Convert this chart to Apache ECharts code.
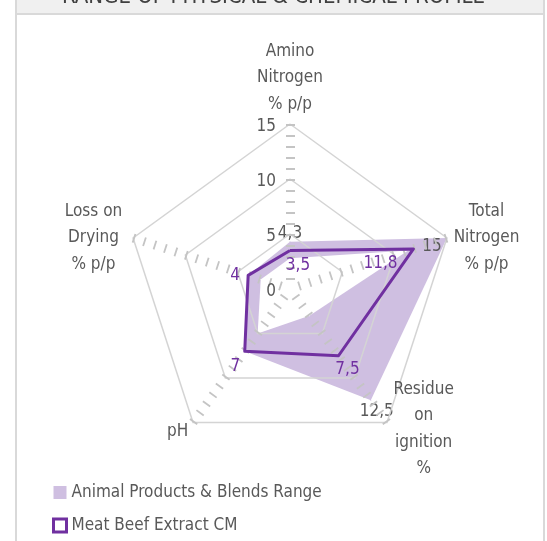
<!DOCTYPE html>
<html>
<head>
<meta charset="utf-8">
<script src="https://cdn.jsdelivr.net/npm/echarts@6/dist/echarts.min.js"></script>
<style>
html,body{margin:0;padding:0;background:#fff;}
#chart{width:547px;height:541px;}
</style>
</head>
<body>
<div id="chart"></div>
<script>
// ---- data (listed clockwise from the top axis) ----
const titleText = 'RANGE OF PHYSICAL & CHEMICAL PROFILE';
const indicatorNames = ['Amino\nNitrogen\n% p/p', 'Total\nNitrogen\n% p/p', 'Residue\non\nignition\n%', 'pH', 'Loss on\nDrying\n% p/p'];
const axisMin = 0;
const axisMax = 15;
const axisSplits = 3; // tick labels 0, 5, 10, 15
const rangeName = 'Animal Products & Blends Range';
const rangeMax = [4.3, 15, 12.5, 7, 4];
const rangeMin = [2.8, 11.3, 3, 5, 2.8];
const meatName = 'Meat Beef Extract CM';
const meatBeef = [3.5, 11.8, 7.5, 7, 4];
const rangeMaxLabelShown = [true, true, true, false, false];

// ECharts lays radar indicators out counter-clockwise; this order makes them run clockwise
const drawOrder = [0, 4, 3, 2, 1];
const ordered = arr => drawOrder.map(i => arr[i]);

// ---- styles ----
const FONT = "'DejaVu Sans Condensed','Liberation Sans Narrow',sans-serif";
const FS = 17;
const RANGE_COLOR = '#cfbfe1';
const LINE_COLOR = '#7030a0';
const TEXT_COLOR = '#595959';
// label paddings [top,right,bottom,left] per vertex (original order) to place each value label
const meatLabelPad = [[31,0,0,16],[30,66,0,0],[28,0,0,18],[30,19,0,0],[1,26,0,0]];
const rangeLabelPad = [[0,0,16,0],[17,30,0,0],[22,0,0,12],[0,0,0,0],[0,0,0,0]];
const nameGaps = [5, 8, 8, 8, 8];
const nameStyle = ['c', 'f', 'c', 'g', 'f']; // per axis name (original order)

const fmt = v => String(v).replace('.', ',');
function richFromPads(pads, color) {
  const r = {};
  pads.forEach((p, i) => {
    r['p' + i] = { padding: p, color: color, fontSize: FS, fontFamily: FONT };
  });
  return r;
}
function valueOf(p) { return Array.isArray(p.value) ? p.value[0] : p.value; }
function nameFormatter(name) {
  const st = nameStyle[indicatorNames.indexOf(name)] || 'c';
  return name.split('\n').map(s => '{' + st + '|' + s + '}').join('\n');
}

const nameRich = {
  c: { width: 64, align: 'center', lineHeight: 26.5, fontSize: FS, fontFamily: FONT, color: TEXT_COLOR },
  f: { width: 64, align: 'center', lineHeight: 26.5, fontSize: FS, fontFamily: FONT, color: TEXT_COLOR, padding: [5, 0, 0, 0] },
  g: { lineHeight: 20, fontSize: FS, fontFamily: FONT, color: TEXT_COLOR, padding: [6, 0, 0, 0] }
};

const chart = echarts.init(document.getElementById('chart'));
const option = {
  animation: false,
  backgroundColor: '#ffffff',
  title: {
    text: titleText,
    left: 'center',
    top: -19,
    textStyle: { color: '#404040', fontSize: 22, fontWeight: 'normal', fontFamily: FONT }
  },
  graphic: [
    { type: 'rect', shape: { x: 17, y: 0, width: 526, height: 13 }, style: { fill: '#f0f0f0' }, z: 0, silent: true },
    { type: 'rect', shape: { x: 17, y: 13, width: 526, height: 2 }, style: { fill: '#d9d9d9' }, z: 0, silent: true },
    { type: 'rect', shape: { x: 15, y: 0, width: 2, height: 541 }, style: { fill: '#d9d9d9' }, z: 0, silent: true },
    { type: 'rect', shape: { x: 543, y: 0, width: 2, height: 541 }, style: { fill: '#d9d9d9' }, z: 0, silent: true }
  ],
  legend: {
    orient: 'vertical',
    left: 52,
    top: 484,
    padding: 0,
    itemWidth: 13,
    itemHeight: 13,
    itemGap: 16,
    selectedMode: false,
    textStyle: { color: TEXT_COLOR, fontSize: FS, fontFamily: FONT },
    data: [
      { name: rangeName, icon: 'rect', itemStyle: { color: RANGE_COLOR, borderWidth: 0 } },
      { name: meatName, icon: 'rect', itemStyle: { color: '#ffffff', borderColor: LINE_COLOR, borderWidth: 3 } }
    ]
  },
  radar: {
    center: [290, 289],
    radius: 165,
    startAngle: 90,
    splitNumber: axisSplits,
    shape: 'polygon',
    z: 3,
    nameGap: 8,
    indicator: ordered(indicatorNames).map((name, i) => ({
      name: name,
      min: axisMin,
      max: axisMax,
      nameGap: nameGaps[drawOrder[i]],
      axisLabel: { show: i === 0 }
    })),
    axisName: {
      color: TEXT_COLOR,
      fontSize: FS,
      fontFamily: FONT,
      formatter: nameFormatter,
      rich: nameRich
    },
    axisLine: { show: true, lineStyle: { color: '#c4c4c4', width: 9, type: [1.8, 9.2], dashOffset: 1.9, cap: 'butt' } },
    axisTick: { show: false },
    axisLabel: {
      show: false, color: TEXT_COLOR, fontSize: FS, fontFamily: FONT, margin: 14,
      formatter: v => '{t|' + v + '}',
      rich: { t: { lineHeight: 20, fontSize: FS, fontFamily: FONT, color: TEXT_COLOR, padding: [6, 0, 0, 0] } }
    },
    splitLine: { lineStyle: { color: '#d4d4d4', width: 1.5 } },
    splitArea: { show: false }
  },
  series: [
    {
      type: 'radar', z: 1, silent: true,
      symbol: 'circle', symbolSize: 1,
      itemStyle: { color: RANGE_COLOR },
      lineStyle: { width: 0, opacity: 0 },
      areaStyle: { color: RANGE_COLOR, opacity: 1 },
      label: {
        show: true, position: 'inside',
        formatter: p => {
          const v = valueOf(p);
          const i = rangeMax.indexOf(v);
          return (i >= 0 && rangeMaxLabelShown[i]) ? '{p' + i + '|' + fmt(v) + '}' : '';
        },
        rich: richFromPads(rangeLabelPad, TEXT_COLOR)
      },
      data: [{ name: rangeName, value: ordered(rangeMax) }]
    },
    {
      type: 'radar', z: 2, silent: true,
      symbol: 'circle', symbolSize: 1,
      itemStyle: { color: '#ffffff' },
      lineStyle: { width: 0, opacity: 0 },
      areaStyle: { color: '#ffffff', opacity: 1 },
      data: [{ name: 'Range minimum', value: ordered(rangeMin) }]
    },
    {
      type: 'radar', z: 5, silent: true,
      symbol: 'circle', symbolSize: 1,
      itemStyle: { color: LINE_COLOR },
      lineStyle: { width: 3, color: LINE_COLOR },
      label: {
        show: true, position: 'inside',
        formatter: p => {
          const v = valueOf(p);
          const i = meatBeef.indexOf(v);
          return i >= 0 ? '{p' + i + '|' + fmt(v) + '}' : '';
        },
        rich: richFromPads(meatLabelPad, LINE_COLOR)
      },
      data: [{ name: meatName, value: ordered(meatBeef) }]
    }
  ]
};
chart.setOption(option);
</script>
</body>
</html>
